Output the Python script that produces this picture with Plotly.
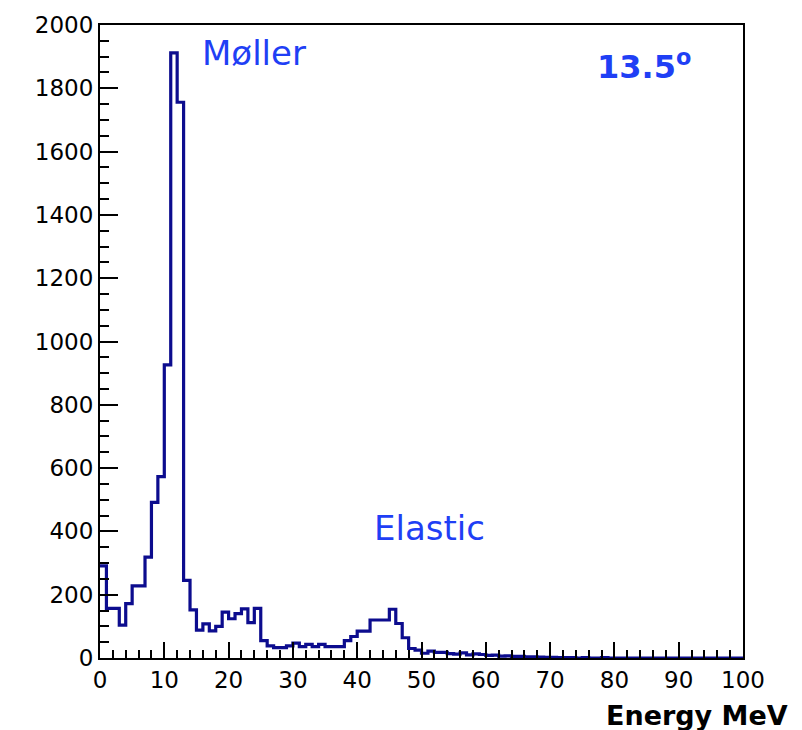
import numpy as np
import plotly.graph_objects as go

# Energy histogram: 100 bins of 1 MeV from 0 to 100 MeV
bin_low = 0.0
bin_high = 100.0
n_bins = 100
counts = [
    291, 157, 157, 104, 172, 228, 228, 319, 492, 573,
    926, 1912, 1756, 245, 152, 88, 108, 86, 100, 145,
    124, 140, 155, 112, 157, 55, 38, 33, 33, 38,
    47, 36, 43, 36, 43, 36, 36, 36, 55, 68,
    85, 85, 120, 120, 120, 154, 109, 64, 30, 25,
    15, 22, 18, 18, 14, 12, 16, 10, 13, 11,
    8, 9, 6, 7, 5, 5, 4, 4, 3, 2,
    2, 1, 1, 1, 0, 1, 0, 0, 1, 0,
    0, 0, 0, 0, 0, 0, 0, 0, 0, 0,
    0, 0, 0, 0, 0, 0, 0, 0, 0, 0,
]

x_ticks = list(range(0, 101, 10))
y_ticks = list(range(0, 2001, 200))

peak_label = "Møller"
elastic_label = "Elastic"
angle_label = "<b>13.5<sup>o</sup></b>"
x_title = "Energy MeV"

edges = np.linspace(bin_low, bin_high, n_bins + 1)
xs = list(edges[:-1]) + [edges[-1]]
ys = list(counts) + [counts[-1]]

line_color = "#0c0c8e"
text_blue = "#1f3ff5"
tick_font = dict(family="DejaVu Sans", size=23, color="black")

fig = go.Figure()
fig.add_trace(go.Scatter(
    x=xs, y=ys, mode="lines",
    line=dict(shape="hv", color=line_color, width=3.2),
    hoverinfo="skip", showlegend=False,
))

fig.update_xaxes(
    range=[bin_low, bin_high],
    tickvals=x_ticks, ticktext=[str(v) for v in x_ticks],
    ticks="inside", ticklen=16, tickwidth=2, tickcolor="black",
    minor=dict(dtick=2, ticks="inside", ticklen=8, tickwidth=2, tickcolor="black"),
    showline=True, linecolor="black", linewidth=2, mirror=True,
    showgrid=False, zeroline=False,
    tickfont=tick_font, ticklabelstandoff=0,
)
fig.update_yaxes(
    range=[0, 2000],
    tickvals=y_ticks, ticktext=[str(v) for v in y_ticks],
    ticks="inside", ticklen=18, tickwidth=2, tickcolor="black",
    minor=dict(dtick=50, ticks="inside", ticklen=9, tickwidth=2, tickcolor="black"),
    showline=True, linecolor="black", linewidth=2, mirror=True,
    showgrid=False, zeroline=False,
    tickfont=tick_font, ticklabelstandoff=0,
)

fig.add_annotation(
    x=15.5, y=1910, xref="x", yref="y", text=peak_label, showarrow=False,
    xanchor="left", yanchor="middle",
    font=dict(family="DejaVu Sans", size=34, color=text_blue),
)
fig.add_annotation(
    x=51.3, y=410, xref="x", yref="y", text=elastic_label, showarrow=False,
    xanchor="center", yanchor="middle",
    font=dict(family="DejaVu Sans", size=34, color=text_blue),
)
fig.add_annotation(
    x=92.3, y=1875, xref="x", yref="y", text=angle_label, showarrow=False,
    xanchor="right", yanchor="middle",
    font=dict(family="DejaVu Sans", size=32, color=text_blue),
)
fig.add_annotation(
    x=(790 - 100) / (802 - 100 - 59), y=-(716 - 658) / (730 - 22 - 72),
    xref="paper", yref="paper", text=f"<b>{x_title}</b>",
    showarrow=False, xanchor="right", yanchor="middle",
    font=dict(family="DejaVu Sans", size=27, color="black"),
)

fig.update_layout(
    width=802, height=730,
    margin=dict(l=100, r=59, t=22, b=72),
    paper_bgcolor="white", plot_bgcolor="white",
)

fig.write_html("out.html")
